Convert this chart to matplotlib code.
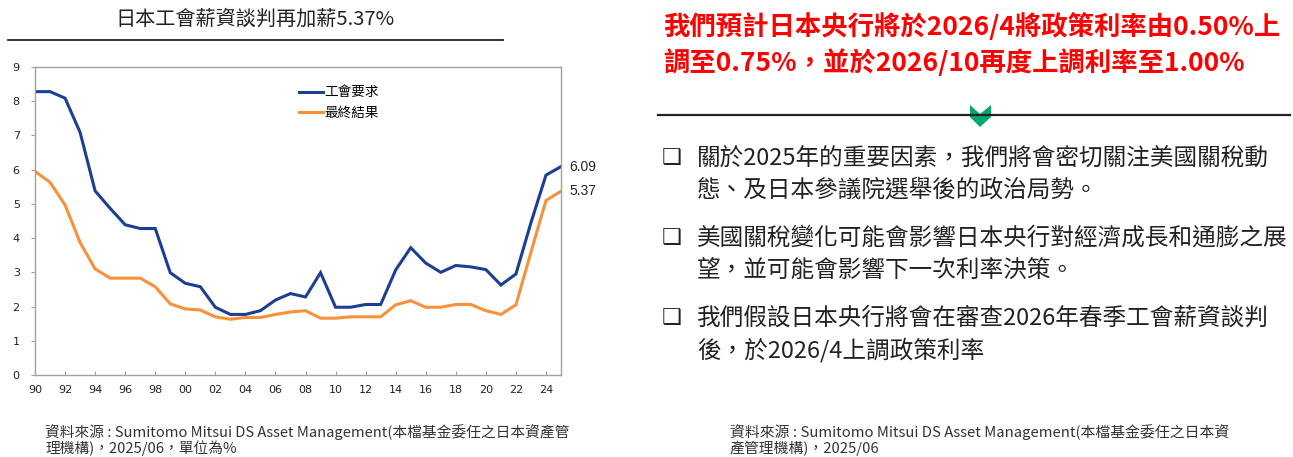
import matplotlib
matplotlib.use("Agg")
import matplotlib.pyplot as plt
from matplotlib.patches import Polygon
from matplotlib.lines import Line2D

plt.rcParams['font.family'] = ['Noto Sans CJK TC', 'DejaVu Sans']

# 資料
years = list(range(1990, 2026))
union_demand = [8.28, 8.28, 8.09, 7.09, 5.38, 4.87, 4.39, 4.28, 4.28, 2.99,
                2.68, 2.58, 1.98, 1.77, 1.77, 1.88, 2.19, 2.38, 2.28, 2.99,
                1.98, 1.98, 2.06, 2.06, 3.07, 3.72, 3.27, 3.00, 3.20, 3.16,
                3.08, 2.63, 2.95, 4.45, 5.84, 6.09]
final_result = [5.95, 5.63, 4.97, 3.87, 3.10, 2.83, 2.83, 2.83, 2.58, 2.08,
                1.93, 1.90, 1.70, 1.63, 1.68, 1.68, 1.77, 1.84, 1.88, 1.66,
                1.66, 1.70, 1.70, 1.70, 2.05, 2.17, 1.98, 1.98, 2.06, 2.06,
                1.88, 1.77, 2.05, 3.59, 5.10, 5.37]
xtick_years = list(range(1990, 2025, 2))
xtick_labels = [f"{y % 100:02d}" for y in xtick_years]
series_names = ["工會要求", "最終結果"]

title = "日本工會薪資談判再加薪5.37%"
source_left = "資料來源 : Sumitomo Mitsui DS Asset Management(本檔基金委任之日本資產管\n理機構)，2025/06，單位為%"
source_right = "資料來源 : Sumitomo Mitsui DS Asset Management(本檔基金委任之日本資\n產管理機構)，2025/06"
headline = ["我們預計日本央行將於2026/4將政策利率由0.50%上",
            "調至0.75%，並於2026/10再度上調利率至1.00%"]
bullets = [["關於2025年的重要因素，我們將會密切關注美國關稅動", "態、及日本參議院選舉後的政治局勢。"],
           ["美國關稅變化可能會影響日本央行對經濟成長和通膨之展", "望，並可能會影響下一次利率決策。"],
           ["我們假設日本央行將會在審查2026年春季工會薪資談判", "後，於2026/4上調政策利率"]]

W, H = 1293, 457
fig = plt.figure(figsize=(W / 100, H / 100), dpi=100)


def fx(x):
    return x / W


def fy(y):
    return 1 - y / H


blue = "#1c3f94"
orange = "#f7923a"

# 左側圖表
ax = fig.add_axes([fx(35), fy(375), fx(561) - fx(35), fy(67) - fy(375)])
ax.plot(years, union_demand, color=blue, lw=2.2, solid_joinstyle="miter")
ax.plot(years, final_result, color=orange, lw=2.2, solid_joinstyle="miter")
ax.set_xlim(1990, 2025)
ax.set_ylim(0, 9)
ax.set_yticks(range(0, 10))
ax.set_xticks(xtick_years)
ax.set_xticklabels(xtick_labels)
ax.tick_params(axis="x", direction="in", length=3, color="#a0a0a0", labelsize=8, pad=7)
ax.tick_params(axis="y", direction="out", length=3, color="#a0a0a0", labelsize=8, pad=8)
for lab in ax.get_xticklabels() + ax.get_yticklabels():
    lab.set_family("DejaVu Sans")
    lab.set_color("#222222")
for s in ax.spines.values():
    s.set_color("#a0a0a0")
    s.set_linewidth(1)

ax.annotate(f"{union_demand[-1]:.2f}", (years[-1], union_demand[-1]), xytext=(6, 0),
            textcoords="offset points", va="center", ha="left", fontsize=10,
            family="Liberation Sans", color="#222222", annotation_clip=False)
ax.annotate(f"{final_result[-1]:.2f}", (years[-1], final_result[-1]), xytext=(6, 0),
            textcoords="offset points", va="center", ha="left", fontsize=10,
            family="Liberation Sans", color="#222222", annotation_clip=False)

handles = [Line2D([], [], color=blue, lw=2.2), Line2D([], [], color=orange, lw=2.2)]
ax.legend(handles, series_names, loc="upper left", bbox_to_anchor=(0.478, 0.98),
          frameon=False, handlelength=1.8, handletextpad=0.1, labelspacing=0.45,
          prop={"family": "Noto Sans CJK TC", "size": 9.8})

fig.text(fx(255), fy(19), title, ha="center", va="center", fontsize=14.5,
         color="#222222", weight="medium")
fig.add_artist(Line2D([fx(8), fx(503)], [fy(40), fy(40)], color="#222222", lw=1.3))
fig.text(fx(45), fy(440), source_left, ha="left", va="center", fontsize=10.6,
         color="#333333", linespacing=1.05)

# 右側文字
fig.text(fx(663), fy(27), headline[0], ha="left", va="center", fontsize=19,
         color="#ff0000", weight="bold")
fig.text(fx(663), fy(63), headline[1], ha="left", va="center", fontsize=19,
         color="#ff0000", weight="bold")
fig.add_artist(Line2D([fx(658), fx(1290)], [fy(115), fy(115)], color="#222222", lw=1.6))
chev = [(970, 105), (980, 114), (991, 105), (991, 117), (980, 127), (970, 117)]
fig.add_artist(Polygon([(fx(x), fy(y)) for x, y in chev], closed=True,
                       facecolor="#00a86b", edgecolor="none", transform=fig.transFigure))

bullet_y = [158, 238, 318]
for by, lines in zip(bullet_y, bullets):
    fig.text(fx(672), fy(by), "\u2751", ha="center", va="center", fontsize=16,
             family="DejaVu Sans", weight="bold", color="#222222")
    fig.text(fx(697), fy(by), lines[0], ha="left", va="center", fontsize=17,
             color="#222222", weight="medium")
    fig.text(fx(697), fy(by + 32), lines[1], ha="left", va="center", fontsize=17,
             color="#222222", weight="medium")

fig.text(fx(730), fy(440), source_right, ha="left", va="center", fontsize=10.7,
         color="#333333", linespacing=1.05)

fig.savefig("out.png", dpi=100)
